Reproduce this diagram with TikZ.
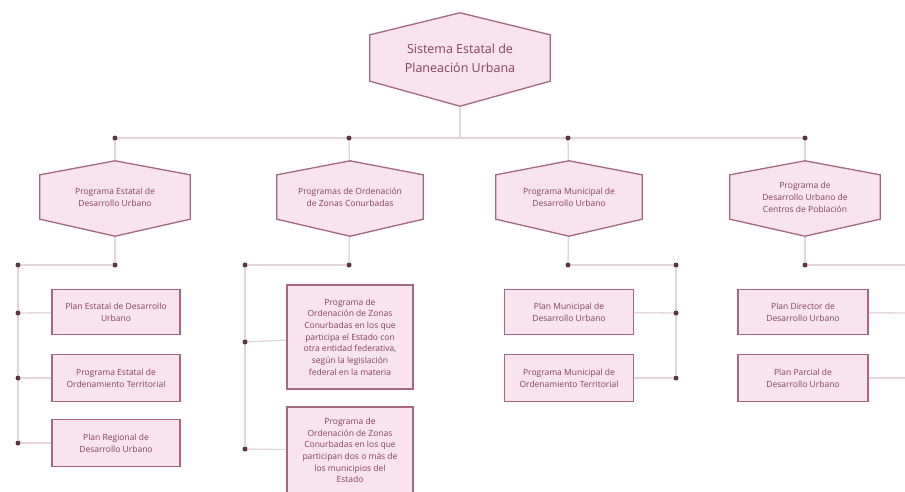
\documentclass[tikz,border=0pt]{standalone}
\usepackage{fontspec}
\setmainfont{Open Sans}
\definecolor{fillpink}{HTML}{F8E3EE}
\definecolor{edgec}{HTML}{A5687E}
\definecolor{txtc}{HTML}{86405C}
\definecolor{wirec}{HTML}{E3D5DB}
\definecolor{dotc}{HTML}{5E3444}
\pgfdeclarelayer{wires}
\pgfdeclarelayer{shapes}
\pgfsetlayers{wires,shapes,main}
\newcommand\hexshape[3]{%
  \begin{pgfonlayer}{shapes}
  \draw[hexline] (#1.north west) -- ([yshift=#2]#1.north) -- (#1.north east)
    -- (#1.south east) -- ([yshift=-#3]#1.south) -- (#1.south west) -- cycle;
  \end{pgfonlayer}}
\begin{document}
\begin{tikzpicture}[x=1pt,y=-1pt,
  hexline/.style={fill=fillpink,draw=edgec,line width=1.3pt,line join=miter},
  hexlabel/.style={draw=none,inner sep=0pt,align=center,text=txtc,
    font=\fontsize{8.5}{12}\selectfont,minimum height=44pt},
  toplabel/.style={draw=none,inner sep=0pt,align=center,text=txtc,
    font=\fontsize{12.5}{19}\selectfont,minimum width=180pt,minimum height=46pt},
  boxc/.style={fill=fillpink,draw=edgec,line width=1.3pt,inner sep=0pt,
    align=center,text=txtc,font=\fontsize{8.5}{11.7}\selectfont},
  dotn/.style={circle,fill=dotc,inner sep=0pt,minimum size=5pt},
  wire/.style={draw=wirec,line width=1.3pt}]
\useasboundingbox (0,0) rectangle (905,491);

% top
\node[toplabel] (top) at (460,58) {Sistema Estatal de\\Planeación Urbana};
\hexshape{top}{22pt}{25pt}
\coordinate (bus) at (460,138);

% level 2 dots
\node[dotn] (d1) at (115,138) {};
\node[dotn] (d2) at (349,138) {};
\node[dotn] (d3) at (568,138) {};
\node[dotn] (d4) at (805,138) {};

% level 2 hexagons
\node[hexlabel,minimum width=150pt] (h1) at (115,197) {Programa Estatal de\\Desarrollo Urbano};
\hexshape{h1}{14pt}{17pt}
\node[hexlabel,minimum width=146pt] (h2) at (350,197) {Programas de Ordenación\\de Zonas Conurbadas};
\hexshape{h2}{14pt}{17pt}
\node[hexlabel,minimum width=146pt] (h3) at (569,197) {Programa Municipal de\\Desarrollo Urbano};
\hexshape{h3}{14pt}{17pt}
\node[hexlabel,minimum width=150pt] (h4) at (805,197) {Programa de\\Desarrollo Urbano de\\Centros de Población};
\hexshape{h4}{14pt}{17pt}

% column 1
\node[dotn] (s1) at (115,265) {};
\node[dotn] (l1) at (18,265) {};
\node[dotn] (l1a) at (18,313) {};
\node[dotn] (l1b) at (18,378) {};
\node[dotn] (l1c) at (18,443) {};
\node[boxc,minimum width=128pt,minimum height=45pt] (b11) at (116,312) {Plan Estatal de Desarrollo\\Urbano};
\node[boxc,minimum width=128pt,minimum height=47pt] (b12) at (116,378) {Programa Estatal de\\Ordenamiento Territorial};
\node[boxc,minimum width=128pt,minimum height=47pt] (b13) at (116,443) {Plan Regional de\\Desarrollo Urbano};

% column 2
\node[dotn] (s2) at (349,265) {};
\node[dotn] (l2) at (245,265) {};
\node[dotn] (l2a) at (245,342) {};
\node[dotn] (l2b) at (245,449) {};
\node[boxc,minimum width=126pt,minimum height=104pt] (b21) at (350,337) {Programa de\\Ordenación de Zonas\\Conurbadas en los que\\participa el Estado con\\otra entidad federativa,\\según la legislación\\federal en la materia};
\node[boxc,minimum width=126pt,minimum height=87pt] (b22) at (350,450.5) {Programa de\\Ordenación de Zonas\\Conurbadas en los que\\participan dos o más de\\los municipios del\\Estado};

% column 3
\node[dotn] (s3) at (568,265) {};
\node[dotn] (r3) at (676,265) {};
\node[dotn] (r3a) at (676,313) {};
\node[dotn] (r3b) at (676,378) {};
\node[boxc,minimum width=129pt,minimum height=45pt] (b31) at (569,312) {Plan Municipal de\\Desarrollo Urbano};
\node[boxc,minimum width=129pt,minimum height=47pt] (b32) at (569,378) {Programa Municipal de\\Ordenamiento Territorial};

% column 4
\node[dotn] (s4) at (805,265) {};
\coordinate (e4) at (905,265);
\coordinate (e4a) at (905,313);
\coordinate (e4b) at (905,378);
\node[boxc,minimum width=130pt,minimum height=45pt] (b41) at (803,312) {Plan Director de\\Desarrollo Urbano};
\node[boxc,minimum width=130pt,minimum height=47pt] (b42) at (803,378) {Plan Parcial de\\Desarrollo Urbano};

% wires
\begin{pgfonlayer}{wires}
\draw[wire] (top) -- (bus);
\draw[wire] (d1) -- (d4);
\foreach \i in {1,2,3,4} {\draw[wire] (d\i) -- (h\i); \draw[wire] (h\i) -- (s\i);}
\draw[wire] (s1) -- (l1); \draw[wire] (l1) -- (l1c);
\draw[wire] (l1a) -- (b11); \draw[wire] (l1b) -- (b12); \draw[wire] (l1c) -- (b13);
\draw[wire] (s2) -- (l2); \draw[wire] (l2) -- (l2b);
\draw[wire] (l2a) -- (b21); \draw[wire] (l2b) -- (b22);
\draw[wire] (s3) -- (r3); \draw[wire] (r3) -- (r3b);
\draw[wire] (r3a) -- (b31); \draw[wire] (r3b) -- (b32);
\draw[wire] (s4) -- (e4);
\draw[wire] (b41) -- (e4a); \draw[wire] (b42) -- (e4b);
\end{pgfonlayer}
\end{tikzpicture}
\end{document}
